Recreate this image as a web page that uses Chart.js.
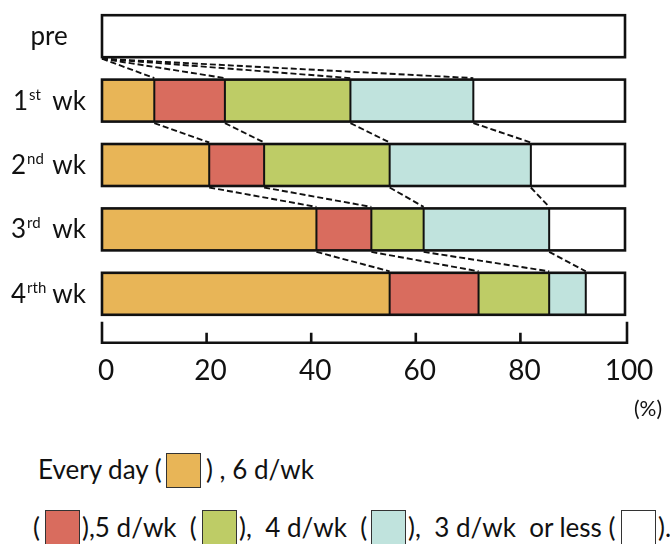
<!DOCTYPE html>
<html><head><meta charset="utf-8">
<script src="https://cdn.jsdelivr.net/npm/chart.js@4"></script>
<style>
html,body{margin:0;padding:0;background:#fff;width:670px;height:544px;overflow:hidden;}
#wrap{position:absolute;left:0;top:0;width:670px;height:430px;}
.lg{position:absolute;font-family:Lato,sans-serif;font-size:26px;line-height:26px;color:#111;white-space:pre;}
.bx{position:absolute;box-sizing:border-box;width:35px;height:35px;border:1.5px solid #333;}
</style></head><body>
<div id="wrap"><canvas id="c" width="670" height="430"></canvas></div>
<div id="legend"></div>
<script>
// ---- data ----
const categories = ['pre', '1st wk', '2nd wk', '3rd wk', '4rth wk'];
const seriesNames = ['Every day', '6 d/wk', '5 d/wk', '4 d/wk', '3 d/wk or less'];
const everyDay   = [0, 10,   20.5, 41,   55];
const sixPerWk   = [0, 13.5, 10.5, 10.5, 17];
const fivePerWk  = [0, 24,   24,   10,   13.5];
const fourPerWk  = [0, 23.5, 27,   24,   7];
const threeOrLess= [100, 29, 18,   14.5, 7.5];
const xTicks = [0, 20, 40, 60, 80, 100];
const xUnit = '(%)';

// ---- style ----
const colors = ['#E8B557', '#D96C5E', '#BECC66', '#C0E3DD', '#FFFFFF'];
const FONT = 'Lato, sans-serif';
const series = [everyDay, sixPerWk, fivePerWk, fourPerWk, threeOrLess];

const overlay = {
  id: 'overlay',
  afterDatasetsDraw(chart) {
    const ctx = chart.ctx, xs = chart.scales.x;
    const n = categories.length;
    const meta0 = chart.getDatasetMeta(0);
    const rows = [];
    for (let r = 0; r < n; r++) { const el = meta0.data[r]; rows.push({ y: el.y, h: el.height }); }
    const cum = categories.map((_, r) => { let s = 0; return series.map(a => (s += a[r])); });
    ctx.save();
    ctx.strokeStyle = '#111';
    // segment separators
    ctx.lineWidth = 2;
    ctx.beginPath();
    rows.forEach((rw, r) => {
      for (let k = 0; k < series.length - 1; k++) {
        const v = cum[r][k];
        if (v <= 0 || v >= 100) continue;
        const px = xs.getPixelForValue(v);
        ctx.moveTo(px, rw.y - rw.h / 2); ctx.lineTo(px, rw.y + rw.h / 2);
      }
    });
    ctx.stroke();
    // outer frames
    ctx.lineWidth = 2.6;
    const x0 = xs.getPixelForValue(0), x1 = xs.getPixelForValue(100);
    rows.forEach(rw => ctx.strokeRect(x0, rw.y - rw.h / 2, x1 - x0, rw.h));
    // dashed connectors
    ctx.setLineDash([6, 3]); ctx.lineWidth = 1.9;
    for (let r = 0; r < n - 1; r++) {
      for (let k = 0; k < series.length - 1; k++) {
        ctx.beginPath();
        ctx.moveTo(xs.getPixelForValue(cum[r][k]), rows[r].y + rows[r].h / 2 + 1.5);
        ctx.lineTo(xs.getPixelForValue(cum[r + 1][k]), rows[r + 1].y - rows[r + 1].h / 2 - 1.5);
        ctx.stroke();
      }
    }
    ctx.setLineDash([]);
    // x axis bracket
    const ay = rows[n - 1].y + rows[n - 1].h / 2 + 28;
    ctx.lineWidth = 2.6;
    ctx.beginPath();
    ctx.moveTo(x0, ay - 21); ctx.lineTo(x0, ay);
    const xe = xs.getPixelForValue(xTicks[xTicks.length - 1]) + 2;
    ctx.lineTo(xe, ay); ctx.lineTo(xe, ay - 21);
    ctx.stroke();
    ctx.beginPath();
    for (let i = 1; i < xTicks.length - 1; i++) {
      const tx = xs.getPixelForValue(xTicks[i]);
      ctx.moveTo(tx, ay); ctx.lineTo(tx, ay - 10);
    }
    ctx.stroke();
    // unit
    ctx.fillStyle = '#111';
    ctx.font = '21px ' + FONT; ctx.textAlign = 'right'; ctx.textBaseline = 'alphabetic';
    ctx.fillText(xUnit, 662, 416);
    // category labels with superscripts
    rows.forEach((rw, r) => {
      const lab = categories[r];
      const m = lab.match(/^(\d)(\D+?) (wk)$/);
      const base = rw.y + 9;
      if (!m) {
        ctx.font = '26px ' + FONT; ctx.textAlign = 'center';
        ctx.fillText(lab, 49, base);
        return;
      }
      ctx.font = '26px ' + FONT; ctx.textAlign = 'left';
      const nx = m[1] === '1' ? 13 : 11;
      ctx.fillText(m[1], nx, base);
      const w = ctx.measureText(m[1]).width;
      ctx.font = '15px ' + FONT;
      ctx.fillText(m[2], nx + w + 1, base - 10);
      ctx.font = '26px ' + FONT; ctx.textAlign = 'right';
      ctx.fillText(m[3], 86, base);
    });
    ctx.restore();
  }
};

new Chart(document.getElementById('c'), {
  type: 'bar',
  data: {
    labels: categories,
    datasets: series.map((d, i) => ({
      label: seriesNames[i],
      data: d,
      backgroundColor: colors[i],
      borderWidth: 0,
      categoryPercentage: 1,
      barPercentage: 0.652
    }))
  },
  options: {
    indexAxis: 'y',
    responsive: false,
    animation: false,
    layout: { padding: { left: 102, right: 45, top: 4, bottom: 41 } },
    plugins: { legend: { display: false }, tooltip: { enabled: false } },
    scales: {
      y: { type: 'category', stacked: true, display: false },
      x: {
        type: 'linear', stacked: true, min: 0, max: 100,
        afterBuildTicks: (s) => { s.ticks = xTicks.map(v => ({ value: v })); },
        afterFit: (s) => { s.height = 63; s.paddingLeft = 0; s.paddingRight = 0; },
        grid: { display: false, drawTicks: false },
        border: { display: false },
        ticks: { color: '#111', font: { family: FONT, size: 28 }, padding: 28, labelOffset: 4, maxRotation: 0, autoSkip: false }
      }
    }
  },
  plugins: [overlay]
});

// ---- legend (HTML text) ----
const lg = document.getElementById('legend');
function txt(x, y, s) { const d = document.createElement('div'); d.className = 'lg'; d.style.left = x + 'px'; d.style.top = y + 'px'; d.textContent = s; lg.appendChild(d); }
function box(x, y, c) { const d = document.createElement('div'); d.className = 'bx'; d.style.left = x + 'px'; d.style.top = y + 'px'; d.style.background = c; lg.appendChild(d); }
txt(38, 456, seriesNames[0] + ' ('); box(166, 453, colors[0]); txt(206, 456, ') , ' + seriesNames[1]);
txt(33, 514, '('); box(45, 510, colors[1]);
txt(82, 514, '),' + seriesNames[2] + '  ('); box(202, 510, colors[2]);
txt(239, 514, '),  ' + seriesNames[3] + '  ('); box(371, 510, colors[3]);
txt(408, 514, '),  3 d/wk  or less ('); box(621, 510, colors[4]);
txt(658, 514, ').');
</script>
</body></html>
